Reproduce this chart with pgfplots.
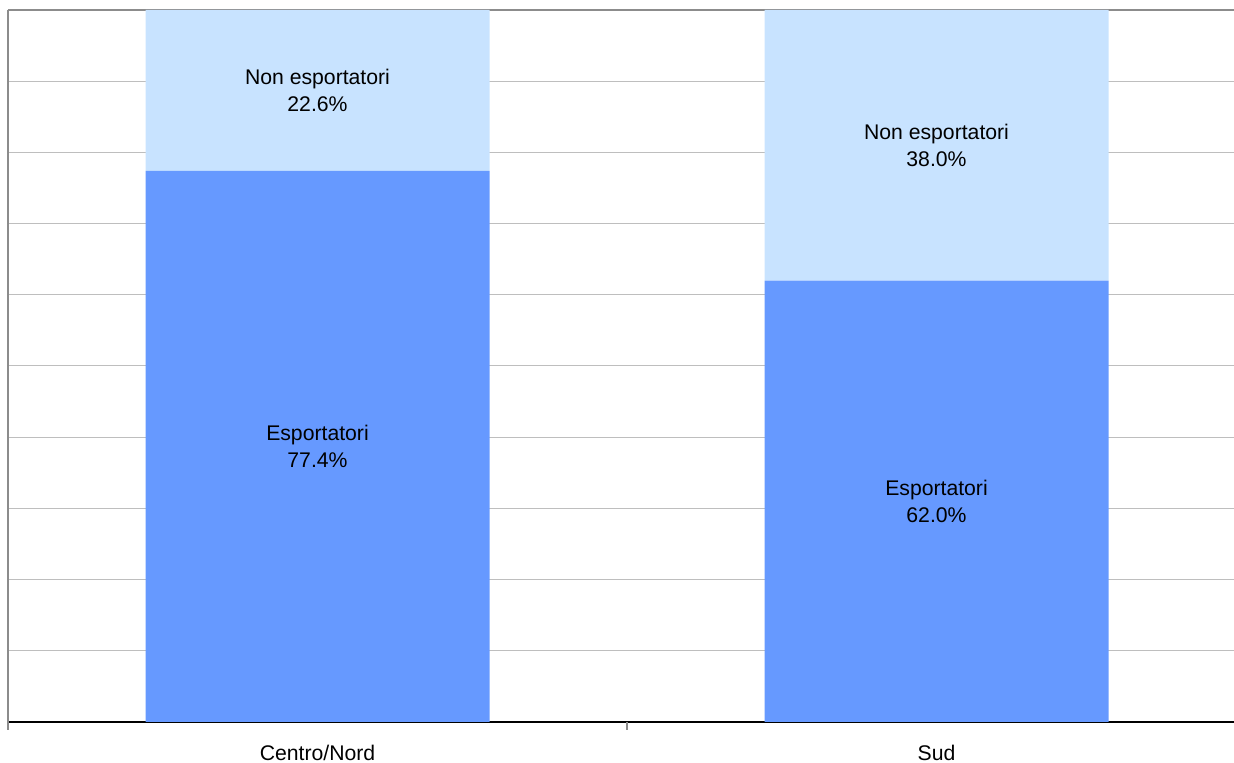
\documentclass[border=0pt]{standalone}
\usepackage{pgfplots}
\usepackage{pgfplotstable}
\pgfplotsset{compat=1.18}
\usepackage{fontspec}
\setmainfont{Liberation Sans}
\definecolor{expdark}{RGB}{102,153,255}
\definecolor{explight}{RGB}{200,227,255}
\definecolor{gridgray}{RGB}{190,190,190}
\definecolor{framegray}{RGB}{140,140,140}

% Shares of firms: exporters and non-exporters
\pgfplotstableread{
x  esp   nonesp
0  77.4  22.6
1  62.0  38.0
}\shares

\pgfplotsset{
  frame/.style={
    at={(4pt,20.5pt)}, anchor=south west,
    width=619pt, height=356pt, scale only axis,
    xmin=-0.5, xmax=1.5, ymin=0, ymax=100, clip=false,
  },
  seglabel/.style={
    draw=none, mark=none,
    point meta=explicit,
    every node near coord/.style={anchor=center, align=center,
      font=\fontsize{10.6}{13.5}\selectfont, text=black},
  },
}

\begin{document}
\begin{tikzpicture}
\clip (0,0) rectangle (617pt,381.5pt);
\begin{axis}[
  frame,
  ybar stacked, bar width=172pt,
  axis x line*=bottom, axis y line*=left,
  x axis line style={black, line width=1pt, -},
  y axis line style={framegray, line width=1pt, -},
  xtick={0,1}, xticklabels={Centro/Nord, Sud},
  major x tick style={draw=none},
  xticklabel style={font=\fontsize{10.6}{12}\selectfont, inner sep=0pt, yshift=-11.5pt},
  ytick={10,20,...,90}, yticklabels={}, major y tick style={draw=none},
  ymajorgrids, grid style={gridgray, line width=0.5pt},
]
\addplot[fill=expdark, draw=none] table[x=x, y=esp] {\shares};
\addplot[fill=explight, draw=none] table[x=x, y=nonesp] {\shares};
\draw[framegray, line width=1pt] (axis cs:-0.5,100) -- (axis cs:1.5,100);
% category boundary ticks below the axis
\draw[framegray, line width=0.8pt] (axis cs:-0.5,0) -- ++(0pt,-4pt);
\draw[framegray, line width=0.8pt] (axis cs:0.5,0) -- ++(0pt,-4pt);
\end{axis}
% segment labels, centred in each segment
\begin{axis}[frame, hide axis, /pgf/number format/assume math mode=true]
\addplot[seglabel,
  nodes near coords={Esportatori\\\pgfmathprintnumber[fixed, fixed zerofill, precision=1, assume math mode=true]{\pgfplotspointmeta}\%}]
  table[x=x, y expr=\thisrow{esp}/2, meta=esp] {\shares};
\addplot[seglabel,
  nodes near coords={Non esportatori\\\pgfmathprintnumber[fixed, fixed zerofill, precision=1, assume math mode=true]{\pgfplotspointmeta}\%}]
  table[x=x, y expr=\thisrow{esp}+\thisrow{nonesp}/2, meta=nonesp] {\shares};
\end{axis}
\end{tikzpicture}
\end{document}
